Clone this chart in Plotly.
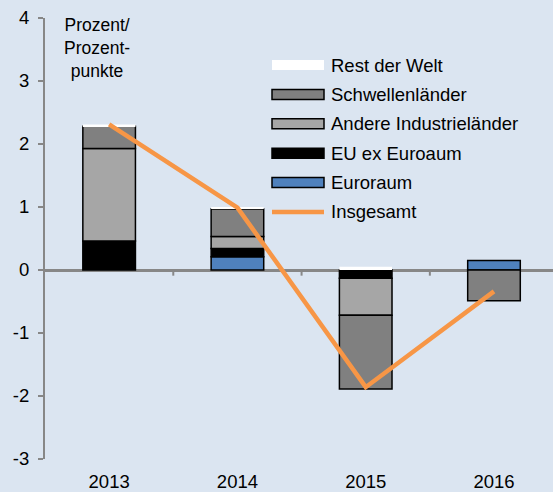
import plotly.graph_objects as go

years = ['2013', '2014', '2015', '2016']

# contributions in percentage points
euroraum = [None, 0.21, None, 0.15]
eu_ex_euroraum = [0.46, 0.13, -0.13, None]
andere_industrielaender = [1.47, 0.19, -0.59, None]
schwellenlaender = [0.35, 0.44, -1.17, -0.49]
rest_der_welt = [0.03, 0.02, 0.05, None]
insgesamt = [2.31, 0.99, -1.86, -0.34]

y_tickvals = [-3, -2, -1, 0, 1, 2, 3, 4]
y_ticktext = ['-3', '-2', '-1', '0', '1', '2', '3', '4']

segments = [
    ('Euroraum', euroraum, '#4F81BD'),
    ('EU ex Euroaum', eu_ex_euroraum, '#000000'),
    ('Andere Industrieländer', andere_industrielaender, '#A6A6A6'),
    ('Schwellenländer', schwellenlaender, '#808080'),
    ('Rest der Welt', rest_der_welt, '#FFFFFF'),
]
line_name = 'Insgesamt'
line_color = '#F79646'

W, H = 553, 492
M_L, M_R, M_T, M_B = 45, 0, 18, 31
BG = '#DBE5F1'
AXIS = '#878787'
FONT = 'Liberation Sans, Arial, sans-serif'
FS = 18.5

xpos = list(range(len(years)))

fig = go.Figure()

for name, vals, color in segments:
    white = color == '#FFFFFF'
    fig.add_trace(go.Bar(
        x=xpos, y=vals, name=name, width=0.41,
        marker=dict(color=color,
                    line=dict(color=color if white else '#000000', width=0 if white else 1.5)),
        showlegend=False,
    ))

fig.add_trace(go.Scatter(
    x=xpos, y=insgesamt, name=line_name, mode='lines',
    line=dict(color=line_color, width=4.5), showlegend=False,
))


# pixel -> paper helpers for the hand-drawn legend
def px(x):
    return (x - M_L) / (W - M_L - M_R)


def py(y):
    return (H - M_B - y) / (H - M_T - M_B)


shapes = []
annotations = []

# legend, top to bottom
legend_items = [(n, c) for n, _, c in reversed(segments)] + [(line_name, line_color)]
for i, (name, color) in enumerate(legend_items):
    yc = 65.3 + 29.5 * i
    if name == line_name:
        shapes.append(dict(type='line', xref='paper', yref='paper',
                           x0=px(272), x1=px(324), y0=py(yc), y1=py(yc),
                           line=dict(color=color, width=4.5)))
    else:
        white = color == '#FFFFFF'
        shapes.append(dict(type='rect', xref='paper', yref='paper',
                           x0=px(272), x1=px(324), y0=py(yc - 5), y1=py(yc + 5),
                           fillcolor=color,
                           line=dict(color=color if white else '#000000', width=0 if white else 1.5)))
    annotations.append(dict(x=px(329), y=py(yc), xref='paper', yref='paper',
                            text=name, showarrow=False, xanchor='left', yanchor='middle',
                            font=dict(size=FS, color='#000000', family=FONT)))

# small tick marks between categories on the zero line
for i in range(len(years) - 1):
    shapes.append(dict(type='line', xref='x', yref='y', x0=i + 0.5, x1=i + 0.5,
                       y0=0, y1=-0.09, line=dict(color=AXIS, width=2), layer='above'))

annotations.append(dict(x=px(97), y=py(48.5), xref='paper', yref='paper',
                        text='Prozent/<br>Prozent-<br>punkte', showarrow=False,
                        xanchor='center', yanchor='middle', align='center',
                        font=dict(size=17.5, color='#000000', family=FONT)))

fig.update_layout(
    width=W, height=H,
    barmode='relative',
    paper_bgcolor=BG, plot_bgcolor=BG,
    margin=dict(l=M_L, r=M_R, t=M_T, b=M_B),
    font=dict(family=FONT, size=FS, color='#000000'),
    showlegend=False,
    shapes=shapes,
    annotations=annotations,
    xaxis=dict(range=[-0.5, 3.46], tickvals=xpos, ticktext=years,
               showline=False, showgrid=False, zeroline=False, ticks='',
               ticklabelstandoff=9),
    yaxis=dict(range=[-3, 4], tickvals=y_tickvals, ticktext=y_ticktext,
               showline=True, linecolor=AXIS, linewidth=2,
               ticks='outside', ticklen=5, tickwidth=2, tickcolor=AXIS,
               ticklabelstandoff=5,
               showgrid=False, zeroline=True, zerolinecolor=AXIS, zerolinewidth=2.5,
               layer='above traces'),
)

# drop the page margin so the figure sits at the window corner
fig.write_html('out.html', config={'displayModeBar': False},
               post_script="document.body.style.margin='0';")
